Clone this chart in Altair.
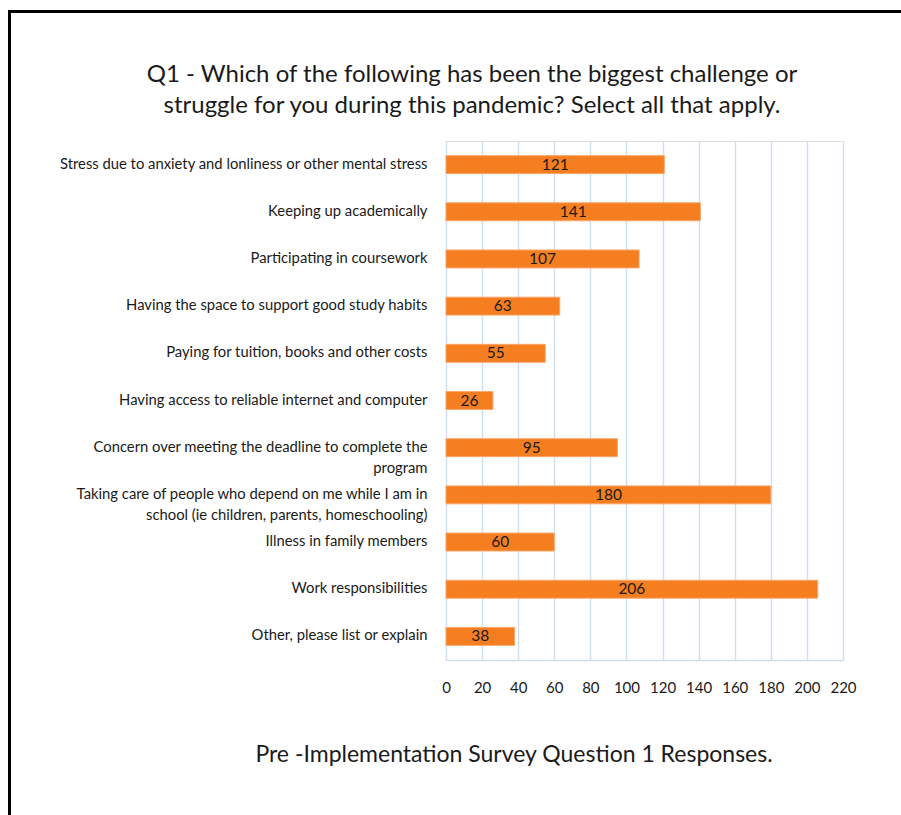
import altair as alt
import pandas as pd

categories = [
    "Stress due to anxiety and lonliness or other mental stress",
    "Keeping up academically",
    "Participating in coursework",
    "Having the space to support good study habits",
    "Paying for tuition, books and other costs",
    "Having access to reliable internet and computer",
    "Concern over meeting the deadline to complete the|program",
    "Taking care of people who depend on me while I am in|school (ie children, parents, homeschooling)",
    "Illness in family members",
    "Work responsibilities",
    "Other, please list or explain",
]
values = [121, 141, 107, 63, 55, 26, 95, 180, 60, 206, 38]
x_ticks = [0, 20, 40, 60, 80, 100, 120, 140, 160, 180, 200, 220]
title_lines = [
    "Q1 - Which of the following has been the biggest challenge or",
    "struggle for you during this pandemic? Select all that apply.",
]
caption = "Pre -Implementation Survey Question 1 Responses."

FONT = "Lato, sans-serif"
ORANGE = "#F47E20"
GRID = "#D3DDF0"

df = pd.DataFrame({"label": categories, "value": values})

W, H = 397, 519

x_axis = alt.Axis(
    values=x_ticks,
    labelFont=FONT,
    labelFontSize=15,
    labelColor="#1a1a1a",
    labelPadding=20,
    labelOverlap=False,
    labelFlush=False,
    ticks=False,
    domain=True,
    domainColor=GRID,
    domainWidth=1.5,
    grid=True,
    gridColor=GRID,
    gridWidth=1.5,
)
x_scale = alt.Scale(domain=[0, 220], nice=False)

base = alt.Chart(df).encode(
    y=alt.Y(
        "label:N",
        sort=categories,
        title=None,
        scale=alt.Scale(paddingInner=0.62, paddingOuter=0.31),
        axis=alt.Axis(
            labelExpr="split(datum.label, '|')",
            labelFont=FONT,
            labelFontSize=14.8,
            labelColor="#1a1a1a",
            labelPadding=19,
            labelLimit=500,
            labelLineHeight=21,
            ticks=False,
            domain=False,
            grid=False,
        ),
    )
)

bars = base.mark_bar(color=ORANGE, stroke="#F9A66A", strokeWidth=1).encode(
    x=alt.X("value:Q", title=None, scale=x_scale, axis=x_axis)
)

texts = base.mark_text(font=FONT, fontSize=15.5, color="#1a1a1a", baseline="middle").transform_calculate(
    half="datum.value / 2"
).encode(x=alt.X("half:Q", title=None, scale=x_scale, axis=x_axis), text=alt.Text("value:Q"))

one = pd.DataFrame({"a": [0]})

title1 = alt.Chart(pd.DataFrame({"t": [title_lines[0]]})).mark_text(
    font=FONT, fontSize=24, color="#1a1a1a", align="center", baseline="middle"
).encode(text="t:N", x=alt.value(26), y=alt.value(-66))
title2 = alt.Chart(pd.DataFrame({"t": [title_lines[1]]})).mark_text(
    font=FONT, fontSize=24, color="#1a1a1a", align="center", baseline="middle"
).encode(text="t:N", x=alt.value(26), y=alt.value(-35))

cap = alt.Chart(pd.DataFrame({"t": [caption]})).mark_text(
    font=FONT, fontSize=23, color="#1a1a1a", align="center", baseline="middle"
).encode(text="t:N", x=alt.value(68), y=alt.value(614))

border_top = alt.Chart(one).mark_rule(color="black", strokeWidth=3).encode(
    x=alt.value(-437), x2=alt.value(460), y=alt.value(-129.5)
)
border_left = alt.Chart(one).mark_rule(color="black", strokeWidth=3).encode(
    x=alt.value(-436.5), y=alt.value(-131), y2=alt.value(680)
)

chart = alt.layer(bars, texts, title1, title2, cap, border_top, border_left).properties(
    width=W,
    height=H,
    autosize=alt.AutoSizeParams(type="none"),
    padding={"left": 446, "top": 141, "right": 58, "bottom": 155},
).configure_view(stroke=None).configure(background="white")

chart.save("out.html", embed_options={"renderer": "svg", "actions": False})
